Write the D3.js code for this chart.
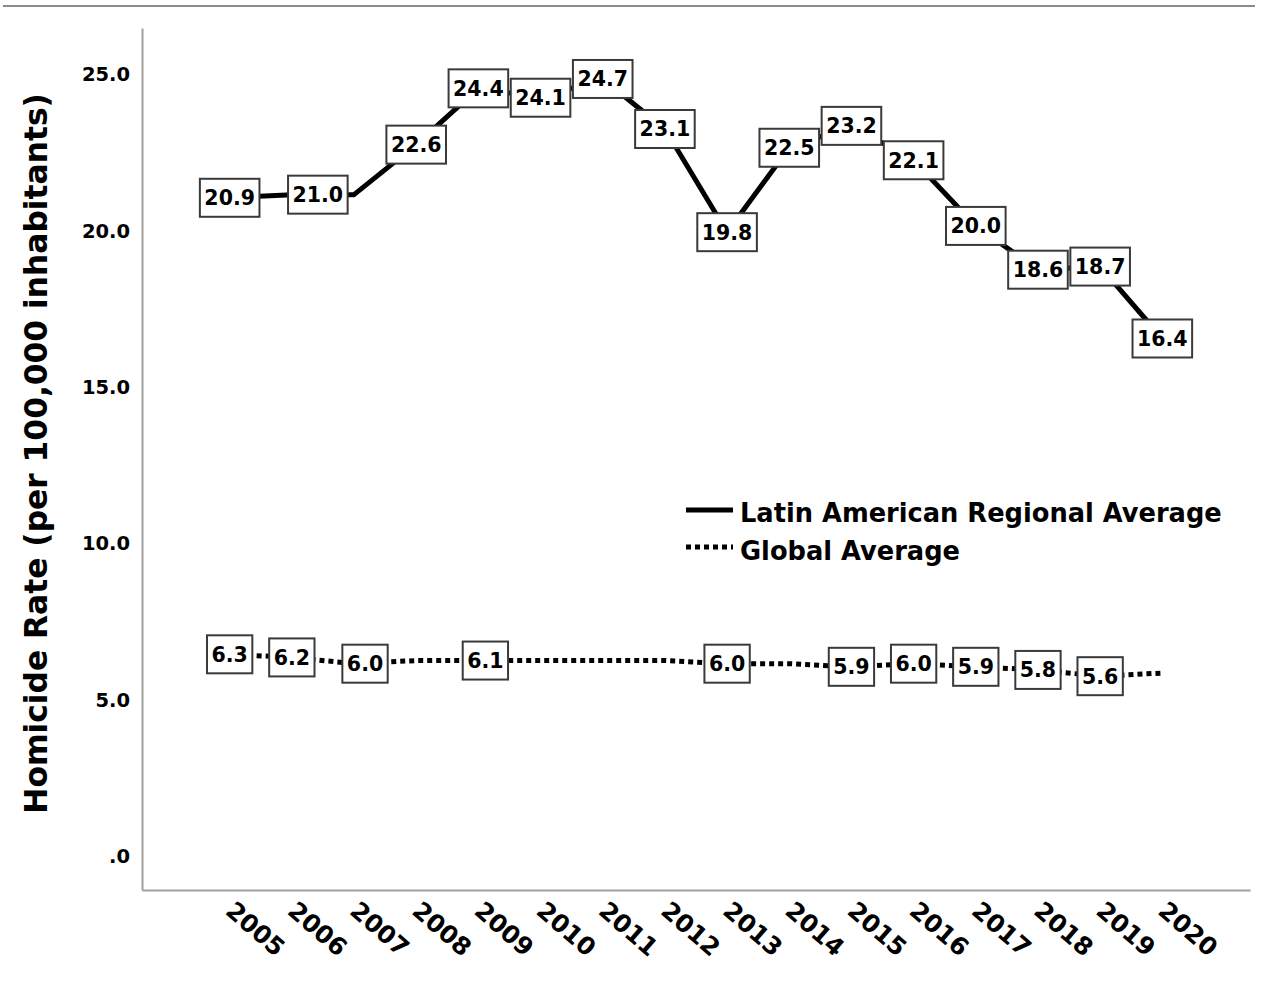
<!DOCTYPE html>
<html>
<head>
<meta charset="utf-8">
<script src="https://cdn.jsdelivr.net/npm/d3@7"></script>
<style>
  html, body { margin: 0; padding: 0; background: #fff; }
  svg { display: block; }
  text { font-family: "DejaVu Sans", sans-serif; font-weight: bold; fill: #000; }
</style>
</head>
<body>
<svg id="chart" width="1264" height="985"></svg>
<script>
// ---- data ----
const years = ["2005","2006","2007","2008","2009","2010","2011","2012","2013","2014","2015","2016","2017","2018","2019","2020"];
const latinValues  = [20.9, 21.0, 21.0, 22.6, 24.4, 24.1, 24.7, 23.1, 19.8, 22.5, 23.2, 22.1, 20.0, 18.6, 18.7, 16.4];
const latinLabelShown  = [true, true, false, true, true, true, true, true, true, true, true, true, true, true, true, true];
const globalValues = [6.3, 6.2, 6.0, 6.1, 6.1, 6.1, 6.1, 6.1, 6.0, 6.0, 5.9, 6.0, 5.9, 5.8, 5.6, 5.7];
const globalLabelShown = [true, true, true, false, true, false, false, false, true, false, true, true, true, true, true, false];
const yTicks = [0, 5, 10, 15, 20, 25];
const yTitle = "Homicide Rate (per 100,000 inhabitants)";
const seriesNames = ["Latin American Regional Average", "Global Average"];

// label nudges (layout only, px) to mimic the original label placement
const labelNudge = { latin: { "2006": 26 }, global: { "2007": 11, "2009": 7 } };

// ---- layout ----
const svg = d3.select("#chart");
const plotLeft = 142, plotRight = 1250, plotTop = 28, plotBottom = 890;

const x = d3.scalePoint().domain(years).range([plotLeft, plotRight]).padding(1.41);
const y = d3.scaleLinear().domain([-1.238, 26.33]).range([plotBottom, plotTop]);

// top rule
svg.append("line").attr("x1", 3).attr("x2", 1255).attr("y1", 6).attr("y2", 6)
  .attr("stroke", "#8c8c8c").attr("stroke-width", 2);

// y axis
const yAxis = svg.append("g").attr("transform", `translate(${plotLeft},0)`)
  .call(d3.axisLeft(y).tickValues(yTicks).tickSize(0).tickPadding(12)
    .tickFormat(d => d === 0 ? ".0" : d3.format(".1f")(d)));
yAxis.select(".domain").attr("stroke", "#a0a0a0").attr("stroke-width", 2);
yAxis.selectAll("text").attr("font-size", 19.5).attr("font-family", "DejaVu Sans").attr("font-weight", "bold").attr("fill", "#000")
  .attr("transform", "translate(0,5)");

// x axis
const xAxis = svg.append("g").attr("transform", `translate(0,${plotBottom})`)
  .call(d3.axisBottom(x).tickSize(0).tickSizeOuter(0));
xAxis.select(".domain").attr("stroke", "#a0a0a0").attr("stroke-width", 2);
xAxis.selectAll("text")
  .attr("font-size", 24.5).attr("font-family", "DejaVu Sans").attr("font-weight", "bold").attr("fill", "#000")
  .attr("text-anchor", "start")
  .attr("y", 0).attr("dy", 0)
  .attr("transform", "translate(-6,23) rotate(41)");

// y title
svg.append("text")
  .attr("transform", `translate(47,${(95 + 812) / 2}) rotate(-90)`)
  .attr("text-anchor", "middle")
  .attr("font-size", 31.3)
  .text(yTitle);

// lines
const latinData = years.map((yr, i) => ({ yr, v: latinValues[i], show: latinLabelShown[i], nudge: labelNudge.latin[yr] || 0 }));
const globalData = years.map((yr, i) => ({ yr, v: globalValues[i], show: globalLabelShown[i], nudge: labelNudge.global[yr] || 0 }));
const line = d3.line().x(d => x(d.yr)).y(d => y(d.v));

svg.append("path").datum(latinData).attr("d", line)
  .attr("fill", "none").attr("stroke", "#000").attr("stroke-width", 5).attr("stroke-linejoin", "round");
svg.append("path").datum(globalData).attr("d", line)
  .attr("fill", "none").attr("stroke", "#000").attr("stroke-width", 5)
  .attr("stroke-dasharray", "5,4");

// labels
function drawLabels(data) {
  const g = svg.append("g");
  const items = g.selectAll("g").data(data.filter(d => d.show)).join("g")
    .attr("transform", d => `translate(${x(d.yr) + d.nudge},${y(d.v)})`);
  items.append("text")
    .attr("text-anchor", "middle").attr("dy", "0.36em")
    .attr("font-size", 20.5)
    .text(d => d3.format(".1f")(d.v))
    .each(function(d) { d.w = this.getComputedTextLength(); });
  items.insert("rect", "text")
    .attr("x", d => -d.w / 2 - 4.5).attr("width", d => d.w + 9)
    .attr("y", -19).attr("height", 38)
    .attr("fill", "#fff").attr("stroke", "#3a3a3a").attr("stroke-width", 2);
}
drawLabels(latinData);
drawLabels(globalData);

// legend
const leg = svg.append("g");
leg.append("line").attr("x1", 686).attr("x2", 733).attr("y1", 510).attr("y2", 510)
  .attr("stroke", "#000").attr("stroke-width", 5);
leg.append("text").attr("x", 740).attr("y", 522).attr("font-size", 25.7).text(seriesNames[0]);
leg.append("line").attr("x1", 686).attr("x2", 733).attr("y1", 547).attr("y2", 547)
  .attr("stroke", "#000").attr("stroke-width", 5).attr("stroke-dasharray", "5,4");
leg.append("text").attr("x", 740).attr("y", 560).attr("font-size", 25.7).text(seriesNames[1]);
</script>
</body>
</html>
